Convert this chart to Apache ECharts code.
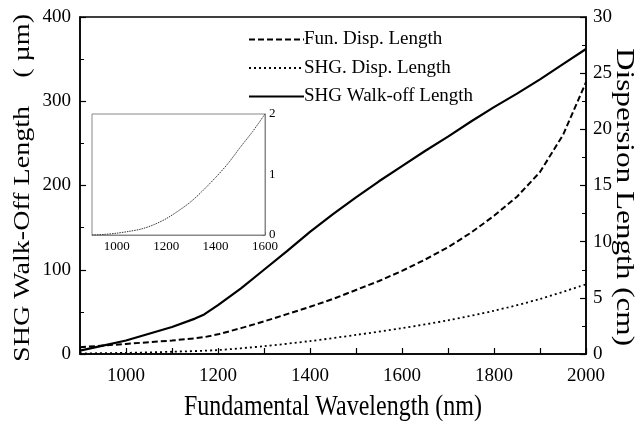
<!DOCTYPE html>
<html>
<head>
<meta charset="utf-8">
<script src="https://cdn.jsdelivr.net/npm/echarts@6/dist/echarts.min.js"></script>
<style>
  html, body { margin: 0; padding: 0; background: #fff; }
  #chart { width: 636px; height: 426px; }
</style>
</head>
<body>
<div id="chart"></div>
<script>
// Fundamental wavelength samples (nm)
const wavelength = [900, 950, 1000, 1050, 1100, 1150, 1170, 1200, 1250, 1300, 1350, 1400, 1450, 1500,
                    1550, 1600, 1650, 1700, 1750, 1800, 1850, 1900, 1950, 2000];
// SHG walk-off length (µm), left axis
const walkOff = [4, 10, 16, 24, 32, 42, 47, 58, 78, 100, 122, 145, 166, 186,
                 205, 223, 241, 258, 276, 293, 309, 326, 344, 362];
// Fundamental dispersion length (cm), right axis
const funDisp = [0.6, 0.75, 0.9, 1.05, 1.2, 1.4, 1.5, 1.75, 2.3, 2.9, 3.55, 4.2, 4.9, 5.7,
                 6.5, 7.4, 8.4, 9.5, 10.8, 12.3, 14.0, 16.2, 19.5, 24.2];
// SHG dispersion length (cm), right axis
const shgWave = [900, 1000, 1100, 1200, 1300, 1400, 1500, 1600, 1700, 1800, 1900, 2000];
const shgDisp = [0.05, 0.1, 0.2, 0.35, 0.7, 1.15, 1.7, 2.3, 3.0, 3.85, 4.9, 6.2];
// Inset curve
const insetWave = [900, 950, 1000, 1050, 1100, 1150, 1200, 1250, 1300, 1350, 1400, 1450, 1500, 1550, 1600];
const insetVal = [0.0, 0.01, 0.03, 0.06, 0.1, 0.17, 0.27, 0.4, 0.55, 0.74, 0.95, 1.18, 1.45, 1.71, 2.0];

const seriesNames = ['Fun. Disp. Length', 'SHG. Disp. Length', 'SHG Walk-off Length'];
const xTitle = 'Fundamental Wavelength (nm)';
const yLeftTitle = 'SHG Walk-Off Length    ( µm)';
const yRightTitle = 'Dispersion Length (cm)';

const FONT = 'Liberation Serif';
const pairs = (xs, ys) => xs.map((x, i) => [x, ys[i]]);
const evenHundreds = v => (v % 200 === 0 && v >= 1000) ? String(v) : '';

const chart = echarts.init(document.getElementById('chart'), null, { renderer: 'canvas' });

// Axis titles are set in a slightly tall, narrow serif face
const titleText = (text, x, y, size, rotation, sx, sy) => ({
  type: 'text', x, y, rotation, scaleX: sx, scaleY: sy, silent: true,
  style: { text, fontFamily: FONT, fontSize: size, fill: '#000', align: 'center', verticalAlign: 'middle' }
});

chart.setOption({
  animation: false,
  backgroundColor: '#fff',
  textStyle: { fontFamily: FONT, color: '#000' },
  legend: {
    data: seriesNames,
    orient: 'vertical',
    left: 248,
    top: 30,
    padding: 0,
    itemWidth: 55,
    itemHeight: 14,
    itemGap: 9.5,
    itemStyle: { opacity: 0 },
    textStyle: { fontFamily: FONT, fontSize: 19, lineHeight: 19, color: '#000', padding: [0, 0, 0, -5] },
    selectedMode: false
  },
  graphic: [
    titleText(xTitle, 333, 407, 24, 0, 1, 1.2),
    titleText(yLeftTitle, 23, 188, 24, Math.PI / 2, 1.17, 1),
    titleText(yRightTitle, 624, 197, 26, -Math.PI / 2, 1.2, 1)
  ],
  grid: [
    { left: 80, right: 50, top: 17, bottom: 72, show: true, borderColor: '#000', borderWidth: 1.5, backgroundColor: 'transparent' },
    { left: 92, top: 114, width: 173, height: 121, show: true, borderColor: '#888', borderWidth: 1, backgroundColor: '#fff', z: 5 }
  ],
  xAxis: [
    {
      gridIndex: 0, type: 'value', min: 900, max: 2000, interval: 100,
      axisLine: { lineStyle: { color: '#000', width: 1.5 } },
      axisTick: { inside: true, length: 6, lineStyle: { color: '#000', width: 1.2 } },
      axisLabel: { formatter: evenHundreds, fontFamily: FONT, fontSize: 19, color: '#000', margin: 13 },
      splitLine: { show: false }
    },
    {
      gridIndex: 1, type: 'value', min: 900, max: 1600, interval: 100,
      axisLine: { lineStyle: { color: '#888', width: 1 } },
      axisTick: { inside: true, length: 3, lineStyle: { color: '#555' } },
      axisLabel: { formatter: evenHundreds, fontFamily: FONT, fontSize: 13, color: '#000', margin: 5 },
      splitLine: { show: false }
    }
  ],
  yAxis: [
    {
      gridIndex: 0, type: 'value', min: 0, max: 400, interval: 100, position: 'left',
      axisLine: { show: true, lineStyle: { color: '#000', width: 1.5 } },
      axisTick: { inside: true, length: 6, lineStyle: { color: '#000', width: 1.2 } },
      minorTick: { show: true, splitNumber: 2, length: 4, lineStyle: { color: '#000' } },
      axisLabel: { fontFamily: FONT, fontSize: 19, color: '#000', margin: 9 },
      splitLine: { show: false }
    },
    {
      gridIndex: 0, type: 'value', min: 0, max: 30, interval: 5, position: 'right',
      axisLine: { show: true, lineStyle: { color: '#000', width: 1.5 } },
      axisTick: { inside: true, length: 6, lineStyle: { color: '#000', width: 1.2 } },
      minorTick: { show: true, splitNumber: 2, length: 4, lineStyle: { color: '#000' } },
      axisLabel: { fontFamily: FONT, fontSize: 19, color: '#000', margin: 7 },
      splitLine: { show: false }
    },
    {
      gridIndex: 1, type: 'value', min: 0, max: 2, interval: 1, position: 'right',
      axisLine: { show: true, lineStyle: { color: '#888', width: 1 } },
      axisTick: { inside: true, length: 3, lineStyle: { color: '#555' } },
      axisLabel: { fontFamily: FONT, fontSize: 13, color: '#000', margin: 4 },
      splitLine: { show: false }
    }
  ],
  series: [
    {
      name: seriesNames[0], type: 'line', xAxisIndex: 0, yAxisIndex: 1,
      data: pairs(wavelength, funDisp), showSymbol: false, symbol: 'none', smooth: false,
      lineStyle: { color: '#000', width: 2, type: [6, 3] }, itemStyle: { color: '#000' }
    },
    {
      name: seriesNames[1], type: 'line', xAxisIndex: 0, yAxisIndex: 1,
      data: pairs(shgWave, shgDisp), showSymbol: false, symbol: 'none', smooth: 0.3,
      lineStyle: { color: '#000', width: 1.8, type: [2, 3] }, itemStyle: { color: '#000' }
    },
    {
      name: seriesNames[2], type: 'line', xAxisIndex: 0, yAxisIndex: 0,
      data: pairs(wavelength, walkOff), showSymbol: false, symbol: 'none', smooth: false,
      lineStyle: { color: '#000', width: 2.2 }, itemStyle: { color: '#000' }
    },
    {
      name: 'inset', type: 'line', xAxisIndex: 1, yAxisIndex: 2, z: 6,
      data: pairs(insetWave, insetVal), showSymbol: false, symbol: 'none', smooth: 0.3,
      lineStyle: { color: '#333', width: 1, type: [1.5, 1] }
    }
  ]
});
</script>
</body>
</html>
